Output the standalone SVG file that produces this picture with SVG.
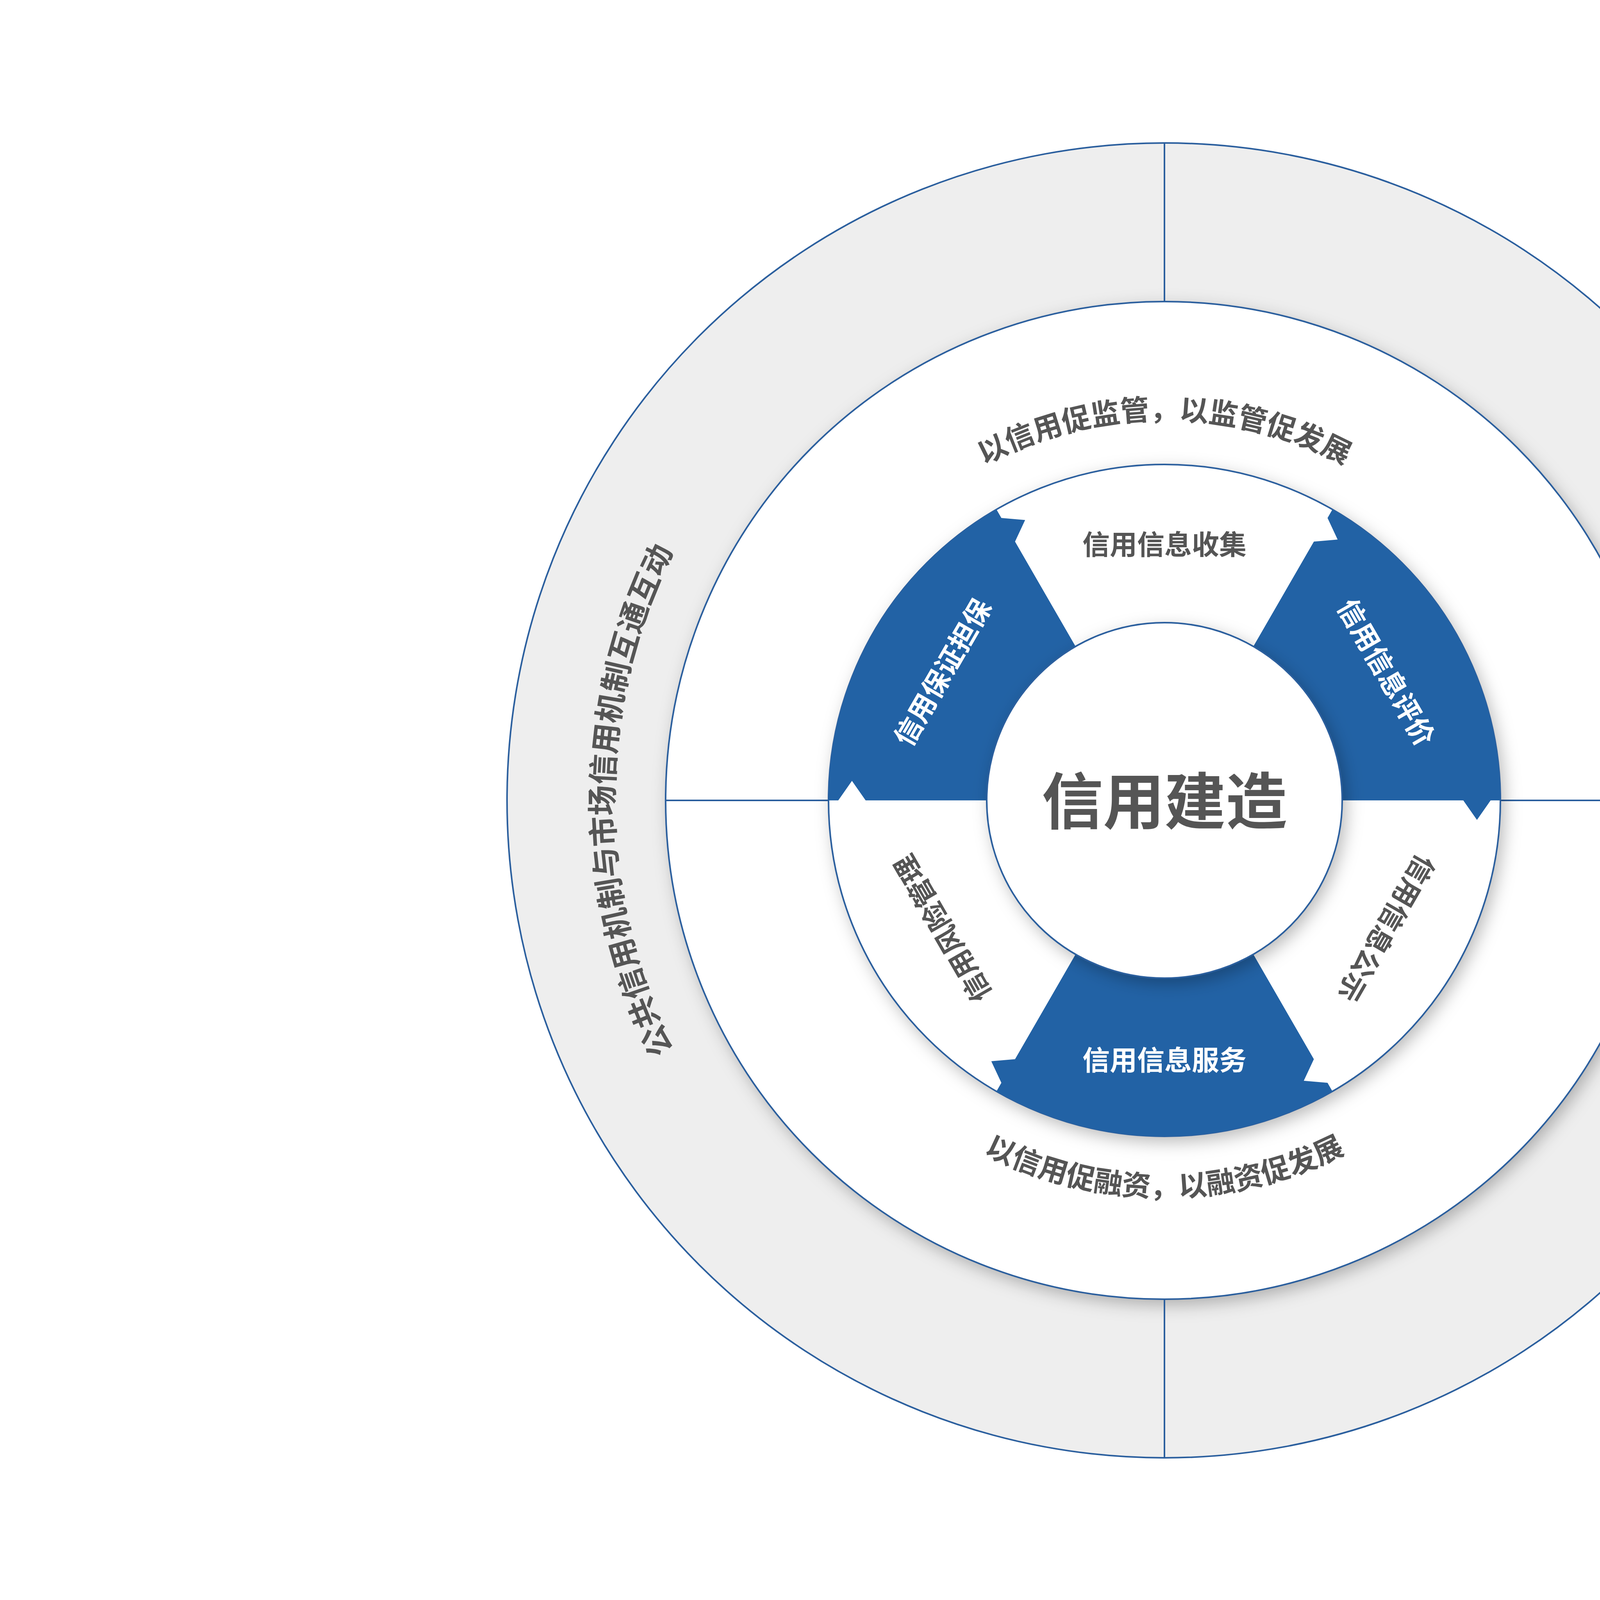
<svg xmlns="http://www.w3.org/2000/svg" width="5847" height="4134" viewBox="0 0 5847 4134">
<defs>
<style>
.ln{stroke:#2b5f9e;stroke-width:4;fill:none}
.t{font-family:"Noto Sans CJK SC","Noto Sans",sans-serif;fill:#555;font-weight:bold}
.lab{font-size:70px;text-anchor:middle;dominant-baseline:central}
.w{fill:#fff}
.blue{fill:#2262a5}
</style>
<filter id="sh" x="-20%" y="-20%" width="140%" height="140%">
<feDropShadow dx="10" dy="14" stdDeviation="22" flood-color="#000" flood-opacity="0.28"/>
</filter>
<path id="pl" d="M 2736.2 3437.6 A 1410 1410 0 0 1 2736.2 660.4"/>
<path id="pr" d="M 3225.8 660.4 A 1410 1410 0 0 1 3225.8 3437.6"/>
<path id="pt" d="M 2006 2049 A 975 975 0 0 1 3956 2049"/>
<path id="pb" d="M 1966 2049 A 1015 1015 0 0 0 3996 2049"/>
</defs>
<rect width="5847" height="4134" fill="#fff"/>
<g id="outer-ring">
<circle cx="2981" cy="2049" r="1683" class="ln" style="fill:#eeeeee"/>
<text class="t" font-size="78"><textPath href="#pl" startOffset="50%" text-anchor="middle">公共信用机制与市场信用机制互通互动</textPath></text>
<text class="t" font-size="78"><textPath href="#pr" startOffset="50%" text-anchor="middle">线上信用机制与线下信用机制有机融合</textPath></text>
</g>
<g id="middle-ring">
<circle cx="2981" cy="2049" r="1277" fill="#fff" filter="url(#sh)"/>
<circle cx="2981" cy="2049" r="1277" class="ln"/>
<text class="t" font-size="74"><textPath href="#pt" startOffset="50%" text-anchor="middle">以信用促监管，以监管促发展</textPath></text>
<text class="t" font-size="74"><textPath href="#pb" startOffset="50%" text-anchor="middle">以信用促融资，以融资促发展</textPath></text>
</g>
<g id="connectors">
<line class="ln" x1="2981" y1="366" x2="2981" y2="772"/>
<line class="ln" x1="2981" y1="3326" x2="2981" y2="3732"/>
<line class="ln" x1="1704" y1="2049" x2="2121" y2="2049"/>
<line class="ln" x1="3841" y1="2049" x2="4258" y2="2049"/>
</g>
<g id="inner-ring">
<circle cx="2981" cy="2049" r="860" fill="#fff" filter="url(#sh)"/>
<circle cx="2981" cy="2049" r="860" class="ln"/>
</g>
<g id="seg-evaluate">
<path class="blue" d="M 3208.5 1655 L 3363.5 1386.5 L 3424.3 1381.2 L 3398.5 1325.9 L 3411 1304.2 A 860 860 0 0 1 3841 2049 L 3816 2049 L 3781 2099 L 3746 2049 L 3436 2049 A 455 455 0 0 0 3208.5 1655 Z"/>
<text class="t lab w" transform="translate(3553 1719) rotate(60)">信用信息评价</text>
</g>
<g id="seg-guarantee">
<path class="blue" d="M 2526 2049 L 2216 2049 L 2181 1999 L 2146 2049 L 2121 2049 A 860 860 0 0 1 2551 1304.2 L 2563.5 1325.9 L 2624.3 1331.2 L 2598.5 1386.5 L 2753.5 1655 A 455 455 0 0 0 2526 2049 Z"/>
<text class="t lab w" transform="translate(2409 1719) rotate(-60)">信用保证担保</text>
</g>
<g id="seg-service">
<path class="blue" d="M 3208.5 2443 L 3363.5 2711.5 L 3337.7 2766.8 L 3398.5 2772.1 L 3411 2793.8 A 860 860 0 0 1 2551 2793.8 L 2563.5 2772.1 L 2537.7 2716.8 L 2598.5 2711.5 L 2753.5 2443 A 455 455 0 0 0 3208.5 2443 Z"/>
<text class="t lab w" transform="translate(2981 2709)">信用信息服务</text>
</g>
<g id="seg-collect"><text class="t lab" transform="translate(2981 1389)">信用信息收集</text></g>
<g id="seg-publish"><text class="t lab" transform="translate(3553 2379) rotate(120)">信用信息公示</text></g>
<g id="seg-risk"><text class="t lab" transform="translate(2409 2379) rotate(-120)">信用风险管理</text></g>
<g id="center">
<circle cx="2981" cy="2049" r="455" fill="#fff" filter="url(#sh)"/>
<circle cx="2981" cy="2049" r="455" class="ln"/>
<text class="t" x="2981" y="2040" font-size="157" text-anchor="middle" dominant-baseline="central">信用建造</text>
</g>
</svg>
